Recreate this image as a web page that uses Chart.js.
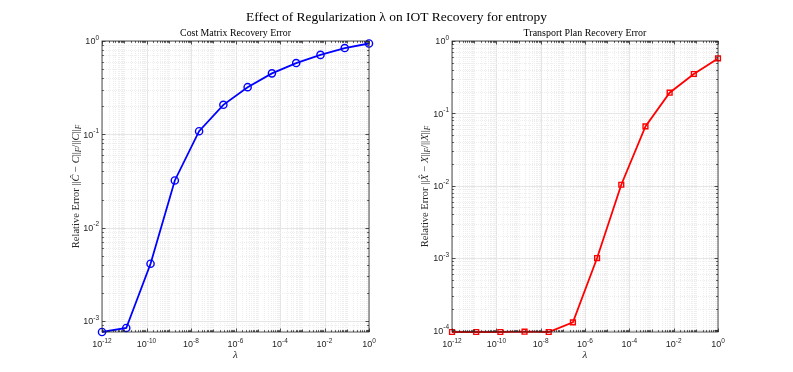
<!DOCTYPE html>
<html>
<head>
<meta charset="utf-8">
<script src="https://cdn.jsdelivr.net/npm/chart.js@4.4.0/dist/chart.umd.min.js"></script>
<style>
  body { margin: 0; background: #fff; width: 793px; height: 372px; position: relative; overflow: hidden; }
  canvas { position: absolute; left: 0; top: 0; }
</style>
</head>
<body>
<canvas id="left" width="793" height="372"></canvas>
<canvas id="right" width="793" height="372"></canvas>
<script>
// lambda values (12 points, log spaced 1e-12 .. 1)
const lambdas = [1e-12, 1.233e-11, 1.52e-10, 1.874e-9, 2.31e-8, 2.848e-7, 3.51e-6, 4.33e-5, 5.34e-4, 6.58e-3, 8.11e-2, 1];
const costErr = [7.6e-4, 8.4e-4, 4.1e-3, 0.032, 0.108, 0.207, 0.32, 0.45, 0.58, 0.71, 0.84, 0.94];
const planErr = [9.5e-5, 9.5e-5, 9.5e-5, 9.6e-5, 9.5e-5, 1.29e-4, 1.0e-3, 0.0103, 0.066, 0.193, 0.35, 0.575];

const xTickExps = [-12, -10, -8, -6, -4, -2, 0];
const costYExps = [-3, -2, -1, 0];
const planYExps = [-4, -3, -2, -1, 0];

const mainTitle = 'Effect of Regularization λ on IOT Recovery for entropy';
const costTitle = 'Cost Matrix Recovery Error';
const planTitle = 'Transport Plan Recovery Error';

// y label pieces: [text, style] n = normal, i = italic, s = italic subscript
const costYLabel = [['Relative Error ', 'n'], ['||', 'n'], ['Ĉ', 'i'], [' − ', 'n'], ['C', 'i'], ['||', 'n'], ['F', 's'], ['/||', 'n'], ['C', 'i'], ['||', 'n'], ['F', 's']];
const planYLabel = [['Relative Error ', 'n'], ['||', 'n'], ['X̂', 'i'], [' − ', 'n'], ['X', 'i'], ['||', 'n'], ['F', 's'], ['/||', 'n'], ['X', 'i'], ['||', 'n'], ['F', 's']];

const SERIF = "'Liberation Serif', 'DejaVu Serif', serif";
const SANS = "'Liberation Sans', Arial, sans-serif";
const INK = '#262626';

function logTicks(min, max) {
  const t = [];
  for (let e = Math.floor(Math.log10(min)); e <= Math.ceil(Math.log10(max)); e++) {
    for (let m = 1; m < 10; m++) {
      const v = m * Math.pow(10, e);
      if (v >= min * 0.9999 && v <= max * 1.0001) t.push({ value: v });
    }
  }
  return t;
}

const isExp = (v, exps) => exps.some(e => Math.abs(Math.log10(v) - e) < 1e-6);
const isDecade = v => Math.abs(Math.log10(v) - Math.round(Math.log10(v))) < 1e-6;

function fitFont(ctx, text, target, style) {
  ctx.font = style + ' 10px ' + SERIF;
  return 10 * target / ctx.measureText(text).width;
}

function drawPow(ctx, exp, x, y, align) {
  // "10" with raised exponent; align 'right' (x = right edge) or 'center'
  ctx.font = '9px ' + SANS;
  const wb = ctx.measureText('10').width;
  ctx.font = '6.5px ' + SANS;
  const es = String(exp);
  const we = ctx.measureText(es).width;
  const left = align === 'right' ? x - wb - we : x - (wb + we) / 2;
  ctx.textAlign = 'left';
  ctx.textBaseline = 'alphabetic';
  ctx.font = '9px ' + SANS;
  ctx.fillText('10', left, y);
  ctx.font = '6.5px ' + SANS;
  ctx.fillText(es, left + wb, y - 4.5);
}

function drawYLabel(ctx, parts, cx, cy, size) {
  const fontOf = s => (s === 'n' ? '' : 'italic ') + (s === 's' ? size * 0.7 : size) + 'px ' + SERIF;
  let total = 0;
  for (const [t, s] of parts) { ctx.font = fontOf(s); total += ctx.measureText(t).width; }
  ctx.save();
  ctx.translate(cx, cy);
  ctx.rotate(-Math.PI / 2);
  ctx.textAlign = 'left';
  ctx.textBaseline = 'middle';
  let x = -total / 2;
  for (const [t, s] of parts) {
    ctx.font = fontOf(s);
    ctx.fillText(t, x, s === 's' ? size * 0.3 : 0);
    x += ctx.measureText(t).width;
  }
  ctx.restore();
}

function framePlugin(opt) {
  return {
    id: 'frame',
    beforeDatasetsDraw(chart) {
      const { ctx, chartArea: a, scales: { x, y } } = chart;
      ctx.save();
      ctx.lineWidth = 1;
      const grid = (major) => {
        if (major) { ctx.strokeStyle = '#e6e6e6'; ctx.setLineDash([]); }
        else { ctx.strokeStyle = '#eeeeee'; ctx.setLineDash([1, 1]); }
      };
      for (const t of x.ticks) {
        const px = Math.round(x.getPixelForValue(t.value)) + 0.5;
        grid(isExp(t.value, xTickExps));
        ctx.beginPath(); ctx.moveTo(px, a.top); ctx.lineTo(px, a.bottom); ctx.stroke();
      }
      for (const t of y.ticks) {
        const py = Math.round(y.getPixelForValue(t.value)) + 0.5;
        grid(isDecade(t.value));
        ctx.beginPath(); ctx.moveTo(a.left, py); ctx.lineTo(a.right, py); ctx.stroke();
      }
      ctx.restore();
    },
    afterDatasetsDraw(chart) {
      const { ctx, chartArea: a, scales: { x, y } } = chart;
      ctx.save();
      ctx.strokeStyle = INK;
      ctx.lineWidth = 0.8;
      ctx.setLineDash([]);
      ctx.strokeRect(a.left, a.top, a.right - a.left, a.bottom - a.top);
      ctx.beginPath();
      for (const t of x.ticks) {
        const px = Math.round(x.getPixelForValue(t.value)) + 0.5;
        const len = isExp(t.value, xTickExps) ? 3.5 : (isDecade(t.value) ? 2.5 : 1.8);
        ctx.moveTo(px, a.bottom); ctx.lineTo(px, a.bottom - len);
        ctx.moveTo(px, a.top); ctx.lineTo(px, a.top + len);
      }
      for (const t of y.ticks) {
        const py = Math.round(y.getPixelForValue(t.value)) + 0.5;
        const len = isDecade(t.value) ? 3.5 : 1.8;
        ctx.moveTo(a.left, py); ctx.lineTo(a.left + len, py);
        ctx.moveTo(a.right, py); ctx.lineTo(a.right - len, py);
      }
      ctx.stroke();

      ctx.fillStyle = INK;
      for (const e of xTickExps) {
        drawPow(ctx, e, x.getPixelForValue(Math.pow(10, e)), a.bottom + 15, 'center');
      }
      for (const e of opt.yExps) {
        drawPow(ctx, e, a.left - 3, y.getPixelForValue(Math.pow(10, e)) + 3.3, 'right');
      }

      const cx = (a.left + a.right) / 2;
      ctx.fillStyle = '#000';
      ctx.textAlign = 'center';
      ctx.textBaseline = 'alphabetic';
      let fs = fitFont(ctx, opt.title, opt.titleWidth, '');
      ctx.font = fs.toFixed(2) + 'px ' + SERIF;
      ctx.fillText(opt.title, cx, 36);

      ctx.fillStyle = INK;
      ctx.font = 'italic 11px ' + SERIF;
      ctx.fillText('λ', cx, 358);

      drawYLabel(ctx, opt.yLabel, opt.yLabelX, (a.top + a.bottom) / 2, 10.5);

      if (opt.mainTitle) {
        ctx.fillStyle = '#000';
        ctx.textAlign = 'center';
        fs = fitFont(ctx, opt.mainTitle, 301, '');
        ctx.font = fs.toFixed(2) + 'px ' + SERIF;
        ctx.fillText(opt.mainTitle, 396.5, 21);
      }
      ctx.restore();
    }
  };
}

function makeChart(id, values, color, style, yMin, opt) {
  return new Chart(document.getElementById(id), {
    type: 'line',
    data: {
      datasets: [{
        data: lambdas.map((v, i) => ({ x: v, y: values[i] })),
        borderColor: color,
        borderWidth: 1.8,
        pointStyle: style,
        pointRadius: style === 'rect' ? 3.4 : 3.6,
        pointBorderWidth: 1.4,
        pointBorderColor: color,
        pointBackgroundColor: 'rgba(0,0,0,0)',
        tension: 0,
        clip: false
      }]
    },
    options: {
      responsive: false,
      animation: false,
      events: [],
      layout: { padding: { left: 0, right: opt.padRight, top: 41, bottom: 0 } },
      plugins: { legend: { display: false }, tooltip: { enabled: false } },
      scales: {
        x: {
          type: 'logarithmic', min: 1e-12, max: 1,
          grid: { display: false }, border: { display: false }, ticks: { display: false },
          afterBuildTicks: s => { s.ticks = logTicks(1e-12, 1); },
          afterFit: s => { s.height = 40; }
        },
        y: {
          type: 'logarithmic', min: yMin, max: 1,
          grid: { display: false }, border: { display: false }, ticks: { display: false },
          afterBuildTicks: s => { s.ticks = logTicks(yMin, 1); },
          afterFit: s => { s.width = opt.axisLeft; }
        }
      }
    },
    plugins: [framePlugin(opt)]
  });
}

makeChart('left', costErr, '#0000ff', 'circle', 7.6e-4, {
  axisLeft: 102, padRight: 793 - 369, yExps: costYExps,
  title: costTitle, titleWidth: 111, yLabel: costYLabel, yLabelX: 76,
  mainTitle: mainTitle
});
makeChart('right', planErr, '#ff0000', 'rect', 9.5e-5, {
  axisLeft: 452, padRight: 793 - 718, yExps: planYExps,
  title: planTitle, titleWidth: 123, yLabel: planYLabel, yLabelX: 425
});
</script>
</body>
</html>
